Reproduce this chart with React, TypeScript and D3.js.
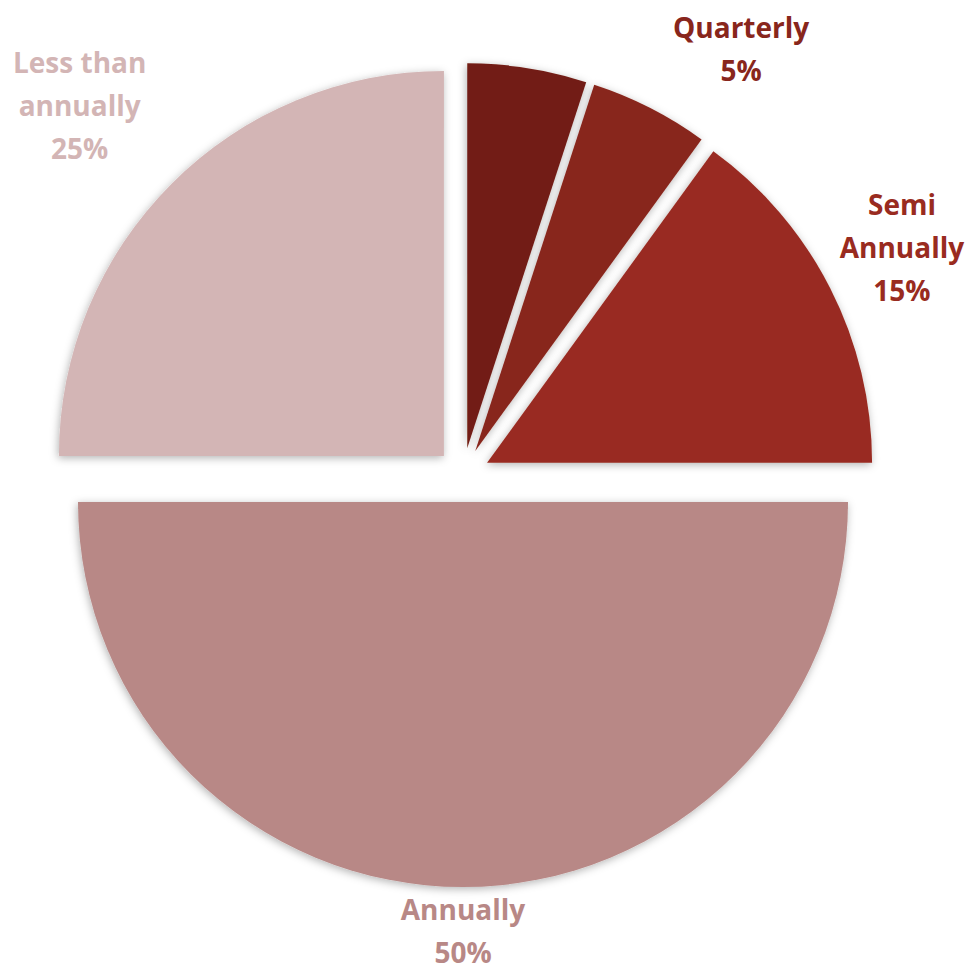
import React from "react";
import * as d3 from "d3";

const categories = ["Monthly", "Quarterly", "Semi Annually", "Annually", "Less than annually"];
const values = [5, 5, 15, 50, 25];
const labelLines = [[], ["Quarterly", "5%"], ["Semi", "Annually", "15%"], ["Annually", "50%"], ["Less than", "annually", "25%"]];
const colors = ["#721F16", "#88261C", "#992B20", "#B88886", "#D3B5B5"];

// layout
const W = 970;
const H = 967;
const CX = 463;
const CY = 475;
const R = 385;
const EXPLODE = 27;
const LINE_H = 43;
// label anchor: [angle deg (clockwise from 12 o'clock), distance from pie center]
const labelPolar: [number, number][] = [[9, 500], [33.2, 508], [62.7, 494], [180, 456], [313.9, 532]];

export default function App() {
  const pie = d3.pie<number>().sort(null).value((d) => d)(values);
  const arc = d3.arc<d3.PieArcDatum<number>>().innerRadius(0).outerRadius(R);

  return (
    <svg
      width={W}
      height={H}
      style={{ position: "absolute", left: 0, top: 0, background: "#fff" }}
      fontFamily="'Open Sans', sans-serif"
    >
      <defs>
        <filter id="sh" x="-20%" y="-20%" width="140%" height="140%">
          <feDropShadow dx="-1" dy="2" stdDeviation="4" floodColor="#000" floodOpacity="0.3" />
        </filter>
      </defs>
      <g transform={`translate(${CX},${CY})`}>
        {pie.map((p, i) => {
          const mid = (p.startAngle + p.endAngle) / 2;
          const dx = Math.sin(mid) * EXPLODE;
          const dy = -Math.cos(mid) * EXPLODE;
          return (
            <path
              key={categories[i]}
              d={arc(p) || ""}
              transform={`translate(${dx},${dy})`}
              fill={colors[i]}
              filter="url(#sh)"
            />
          );
        })}
        {pie.map((p, i) => {
          const lines = labelLines[i];
          if (!lines.length) return null;
          const [ang, dist] = labelPolar[i];
          const a = (ang * Math.PI) / 180;
          const x = Math.sin(a) * dist;
          const y = -Math.cos(a) * dist;
          return (
            <text
              key={"l" + i}
              textAnchor="middle"
              fontWeight={700}
              fontSize={28}
              fill={colors[i]}
            >
              {lines.map((ln, j) => (
                <tspan key={j} x={x} y={y + (j - (lines.length - 1) / 2) * LINE_H + 10}>
                  {ln}
                </tspan>
              ))}
            </text>
          );
        })}
      </g>
    </svg>
  );
}
